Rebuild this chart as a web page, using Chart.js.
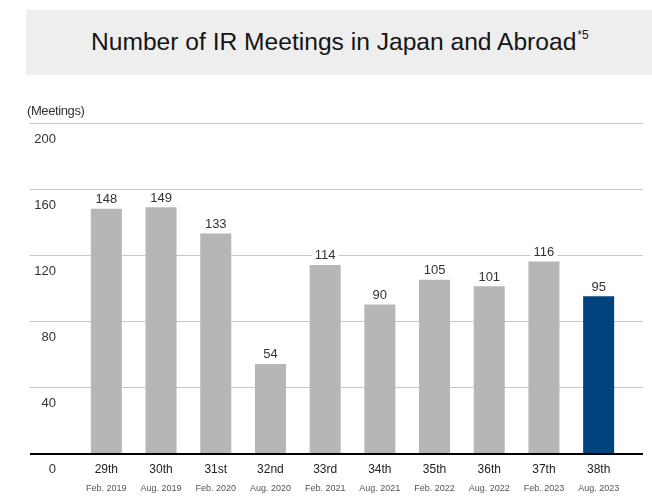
<!DOCTYPE html>
<html><head><meta charset="utf-8">
<script src="https://cdn.jsdelivr.net/npm/chart.js@4"></script>
<style>
html,body{margin:0;padding:0;background:#fff;width:652px;height:498px;overflow:hidden;font-family:"Liberation Sans",Arial,sans-serif}
#title{position:absolute;left:26px;top:10px;width:626px;height:65px;background:#eeeeee;font-size:24.6px;color:#151515}
#title span{position:absolute;left:65px;top:18px;white-space:nowrap}
#title sup{font-size:12px;position:relative;top:-2px;margin-left:1px}
#unit{position:absolute;left:27px;top:103px;font-size:13px;color:#333;letter-spacing:-0.4px}
#wrap{position:absolute;left:0;top:0;width:652px;height:498px}
</style></head>
<body>
<div id="wrap"><canvas id="c" width="652" height="498"></canvas></div>
<div id="title"><span>Number of IR Meetings in Japan and Abroad<sup>*5</sup></span></div>
<div id="unit">(Meetings)</div>
<script>
const ordinals = ["29th","30th","31st","32nd","33rd","34th","35th","36th","37th","38th"];
const periods = ["Feb. 2019","Aug. 2019","Feb. 2020","Aug. 2020","Feb. 2021","Aug. 2021","Feb. 2022","Aug. 2022","Feb. 2023","Aug. 2023"];
const meetings = [148,149,133,54,114,90,105,101,116,95];
const yTicks = [0,40,80,120,160,200];
const barColors = meetings.map((v,i)=> i===meetings.length-1 ? '#00447f' : '#b5b6b5');

const gridPlugin = {
  id:'gridExt',
  beforeDatasetsDraw(chart){
    const ctx = chart.ctx, y = chart.scales.y;
    ctx.save();
    yTicks.forEach(t=>{
      if (t===0) return;
      const py = Math.round(y.getPixelForValue(t));
      ctx.strokeStyle='#c8c8c8'; ctx.lineWidth=1;
      ctx.beginPath(); ctx.moveTo(30,py+0.5); ctx.lineTo(643,py+0.5); ctx.stroke();
    });
    ctx.restore();
  },
  afterDatasetsDraw(chart){
    const ctx = chart.ctx, y = chart.scales.y;
    const meta = chart.getDatasetMeta(0);
    ctx.save();
    const py = Math.round(y.getPixelForValue(0));
    ctx.strokeStyle='#000'; ctx.lineWidth=2;
    ctx.beginPath(); ctx.moveTo(30,py+1); ctx.lineTo(643,py+1); ctx.stroke();
    ctx.font='13px "Liberation Sans", Arial, sans-serif';
    ctx.textAlign='center'; ctx.textBaseline='middle';
    meta.data.forEach((bar,i)=>{
      const txt=String(meetings[i]);
      const w=ctx.measureText(txt).width;
      const ty=bar.y-9;
      ctx.fillStyle='#fff';
      ctx.fillRect(bar.x-w/2-3, ty-7, w+6, 14);
      ctx.fillStyle='#333';
      ctx.fillText(txt, bar.x, ty);
    });
    ctx.restore();
  }
};

new Chart(document.getElementById('c'),{
  type:'bar',
  data:{labels:ordinals,datasets:[{data:meetings,backgroundColor:barColors,barPercentage:0.567,categoryPercentage:1}]},
  options:{
    responsive:false,animation:false,
    layout:{padding:{top:123,right:26,left:0,bottom:0}},
    plugins:{legend:{display:false},tooltip:{enabled:false},title:{display:false}},
    scales:{
      y:{min:0,max:200,afterBuildTicks(s){s.ticks=yTicks.map(v=>({value:v}));},
        afterFit(s){s.width=79;},
        grid:{display:false},border:{display:false},
        ticks:{padding:15,labelOffset:16,color:'#333',font:{family:'"Liberation Sans", Arial, sans-serif',size:13}}},
      x:{weight:1,grid:{display:false},border:{display:false},
        afterFit(s){s.height=20;},
        ticks:{padding:1,color:'#222',font:{family:'"Liberation Sans", Arial, sans-serif',size:12},maxRotation:0,autoSkip:false}},
      x2:{weight:2,type:'category',labels:periods,position:'bottom',grid:{display:false},border:{display:false},
        afterFit(s){s.height=25;},
        ticks:{padding:2,color:'#555',font:{family:'"Liberation Sans", Arial, sans-serif',size:9},maxRotation:0,autoSkip:false}}
    }
  },
  plugins:[gridPlugin]
});
</script>
</body></html>
